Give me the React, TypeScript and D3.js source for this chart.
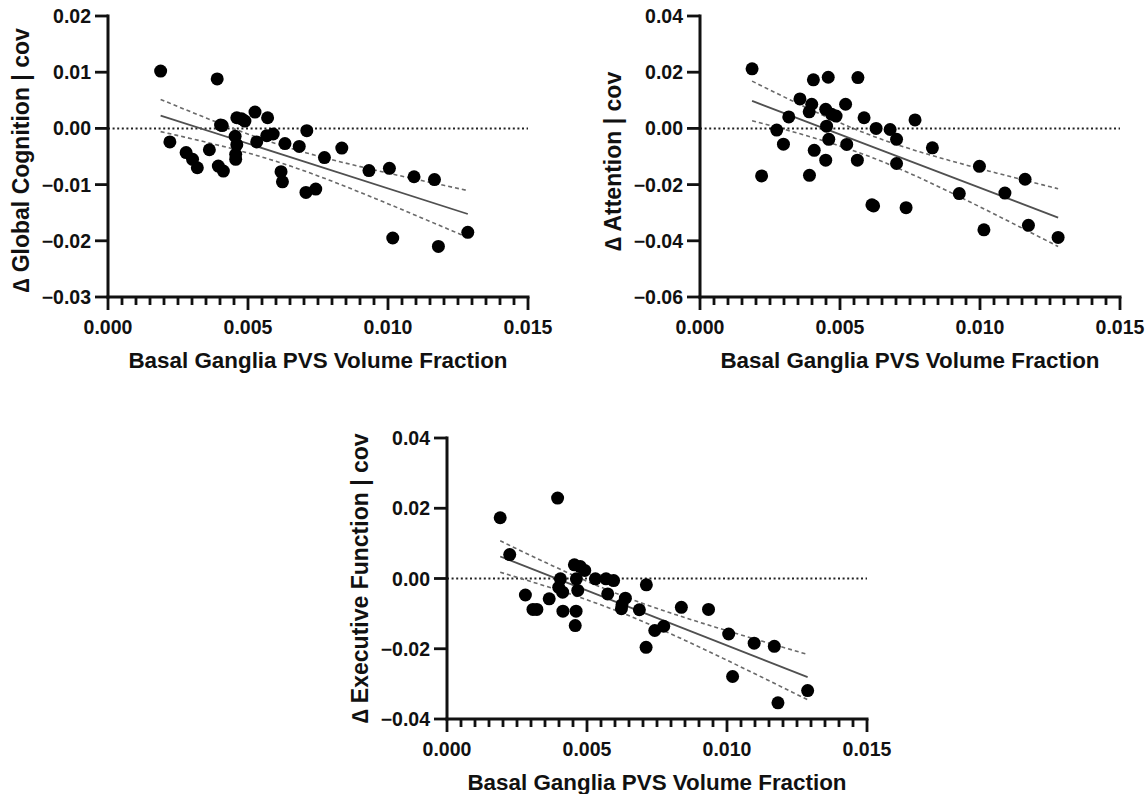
import React, { useEffect, useRef } from 'react';
import * as d3 from 'd3';

// shared x axis
const xTickValues = [0, 0.005, 0.01, 0.015];
const xTitle = 'Basal Ganglia PVS Volume Fraction';

// Global cognition
const gcX = [0.00188, 0.00221, 0.00279, 0.00302, 0.00319, 0.00362, 0.0039, 0.00402, 0.00408, 0.00394, 0.00412, 0.00454, 0.0046, 0.00456, 0.00456, 0.0046, 0.00477, 0.00489, 0.00525, 0.00531, 0.0057, 0.00567, 0.0059, 0.00618, 0.00623, 0.00632, 0.00683, 0.0071, 0.00707, 0.00742, 0.00773, 0.00835, 0.00932, 0.01005, 0.01017, 0.01093, 0.01166, 0.0118, 0.01285];
const gcY = [0.0102, -0.0024, -0.0043, -0.0055, -0.007, -0.0038, 0.0088, 0.0006, 0.0005, -0.0067, -0.0076, -0.0014, -0.0029, -0.0046, -0.0055, 0.0019, 0.0017, 0.0013, 0.0029, -0.0024, 0.0019, -0.0013, -0.001, -0.0077, -0.0095, -0.0027, -0.0032, -0.0004, -0.0114, -0.0108, -0.0052, -0.0035, -0.0075, -0.0071, -0.0195, -0.0086, -0.0091, -0.021, -0.0185];
const gcTicks = [-0.03, -0.02, -0.01, 0, 0.01, 0.02];

// Attention
const atX = [0.00186, 0.0022, 0.00274, 0.00298, 0.00317, 0.00357, 0.0039, 0.00399, 0.00405, 0.00391, 0.00408, 0.00449, 0.00449, 0.00458, 0.00452, 0.0046, 0.0047, 0.00486, 0.0052, 0.00524, 0.00562, 0.00564, 0.00586, 0.00614, 0.0062, 0.00629, 0.00679, 0.00702, 0.00702, 0.00736, 0.00768, 0.0083, 0.00926, 0.00998, 0.01014, 0.01089, 0.01161, 0.01173, 0.01279];
const atY = [0.0212, -0.0169, -0.0006, -0.0056, 0.0041, 0.0105, 0.0059, 0.0086, 0.0173, -0.0167, -0.0078, -0.0113, 0.0068, 0.0182, 0.0008, -0.0039, 0.005, 0.0044, 0.0086, -0.0057, -0.0113, 0.0181, 0.0038, -0.0272, -0.0276, 0, -0.0004, -0.0039, -0.0125, -0.0282, 0.003, -0.0069, -0.0232, -0.0135, -0.0361, -0.023, -0.0181, -0.0345, -0.0388];
const atTicks = [-0.06, -0.04, -0.02, 0, 0.02, 0.04];

// Executive function
const efX = [0.0019, 0.00224, 0.0028, 0.00307, 0.00321, 0.00365, 0.00395, 0.00405, 0.00399, 0.00413, 0.00414, 0.00455, 0.00476, 0.00462, 0.00467, 0.00461, 0.00458, 0.00492, 0.0053, 0.00568, 0.00595, 0.00574, 0.00637, 0.00625, 0.00623, 0.00687, 0.00712, 0.00711, 0.00742, 0.00774, 0.00837, 0.00934, 0.01006, 0.0102, 0.01097, 0.01169, 0.01182, 0.01288];
const efY = [0.0173, 0.0068, -0.0047, -0.0088, -0.0088, -0.0058, 0.0229, -0.0001, -0.0025, -0.0039, -0.0093, 0.0039, 0.0034, -0.0001, -0.0034, -0.0093, -0.0134, 0.0023, -0.0001, -0.0001, -0.0006, -0.0044, -0.0056, -0.0075, -0.0086, -0.0089, -0.0018, -0.0196, -0.0148, -0.0136, -0.0082, -0.0088, -0.0158, -0.0279, -0.0184, -0.0193, -0.0354, -0.0319];
const efTicks = [-0.04, -0.02, 0, 0.02, 0.04];

const panels = [
    { title: '\u2206 Global Cognition | cov', xs: gcX, ys: gcY, yTicks: gcTicks, left: 108, top: 16, titleShift: 4 },
    { title: '\u2206 Attention | cov', xs: atX, ys: atY, yTicks: atTicks, left: 700, top: 16, titleShift: 5 },
    { title: '\u2206 Executive Function | cov', xs: efX, ys: efY, yTicks: efTicks, left: 447, top: 438, titleShift: 0 },
];

const FONT = "'Liberation Sans', Arial, Helvetica, sans-serif";
const INK = '#111';
const T_CRIT = 2.026; // ~95%, df = n - 2
const TICK_W = 2.8;

function drawPanel(root, p) {
    const w = 420;
    const h = 281;
    const g = root.append('g').attr('transform', 'translate(' + p.left + ',' + p.top + ')');

    const x = d3.scaleLinear().domain([0, 0.015]).range([0, w]);
    const y = d3.scaleLinear().domain(d3.extent(p.yTicks)).range([h, 0]);

    // dotted zero reference
    g.append('line')
        .attr('x1', 0)
        .attr('x2', w)
        .attr('y1', y(0))
        .attr('y2', y(0))
        .attr('stroke', '#222')
        .attr('stroke-width', 2)
        .attr('stroke-dasharray', '2,2.6');

    // linear fit + 95% confidence band
    const n = p.xs.length;
    const mx = d3.mean(p.xs);
    const my = d3.mean(p.ys);
    let sxx = 0;
    let sxy = 0;
    for (let i = 0; i < n; i++) {
        sxx += (p.xs[i] - mx) ** 2;
        sxy += (p.xs[i] - mx) * (p.ys[i] - my);
    }
    const slope = sxy / sxx;
    const icpt = my - slope * mx;
    let sse = 0;
    for (let i = 0; i < n; i++) sse += (p.ys[i] - (icpt + slope * p.xs[i])) ** 2;
    const s = Math.sqrt(sse / (n - 2));

    const [xMin, xMax] = d3.extent(p.xs);
    const grid = d3.range(0, 41).map((i) => xMin + ((xMax - xMin) * i) / 40);
    const band = (sign) => (xv) => {
        const se = s * Math.sqrt(1 / n + (xv - mx) ** 2 / sxx);
        return icpt + slope * xv + sign * T_CRIT * se;
    };
    const line = d3.line().x((d) => x(d[0])).y((d) => y(d[1]));

    [band(1), band(-1)].forEach((f) => {
        g.append('path')
            .attr('d', line(grid.map((v) => [v, f(v)])))
            .attr('fill', 'none')
            .attr('stroke', '#6a6a6a')
            .attr('stroke-width', 1.6)
            .attr('stroke-dasharray', '4,3');
    });
    g.append('path')
        .attr('d', line([[xMin, icpt + slope * xMin], [xMax, icpt + slope * xMax]]))
        .attr('fill', 'none')
        .attr('stroke', '#505050')
        .attr('stroke-width', 1.8);

    // points
    g.selectAll('.dot')
        .data(p.xs)
        .enter()
        .append('circle')
        .attr('class', 'dot')
        .attr('cx', (d) => x(d))
        .attr('cy', (d, i) => y(p.ys[i]))
        .attr('r', 6.5)
        .attr('fill', '#000');

    // tick marks as small filled bars
    const minor = d3.range(1, 30).filter((i) => i % 10 !== 0).map((i) => i * 0.0005);
    const xTickRows = minor.map((v) => ({ v, len: 8 })).concat(xTickValues.map((v) => ({ v, len: 13 })));
    g.selectAll('.xtick')
        .data(xTickRows)
        .enter()
        .append('rect')
        .attr('class', 'xtick')
        .attr('x', (d) => x(d.v) - TICK_W / 2)
        .attr('y', h)
        .attr('width', TICK_W)
        .attr('height', (d) => d.len)
        .attr('fill', INK);
    g.selectAll('.ytick')
        .data(p.yTicks)
        .enter()
        .append('rect')
        .attr('class', 'ytick')
        .attr('x', -13)
        .attr('y', (d) => y(d) - TICK_W / 2)
        .attr('width', 13)
        .attr('height', TICK_W)
        .attr('fill', INK);

    // axis frame
    g.append('rect').attr('x', -1.5).attr('y', -1.5).attr('width', 3).attr('height', h + 3).attr('fill', INK);
    g.append('rect').attr('x', -1.5).attr('y', h - 1.5).attr('width', w + 3).attr('height', 3).attr('fill', INK);

    const label = (sel, size) =>
        sel.style('font-family', FONT).style('font-weight', 'bold').style('font-size', size).attr('fill', INK);

    const fx = d3.format('.3f');
    const fy = d3.format('.2f');
    label(
        g.selectAll('.xlab')
            .data(xTickValues)
            .enter()
            .append('text')
            .attr('class', 'xlab')
            .attr('x', (d) => x(d))
            .attr('y', h + 37)
            .attr('text-anchor', 'middle')
            .text((d) => fx(d)),
        '19.5px'
    );
    label(
        g.selectAll('.ylab')
            .data(p.yTicks)
            .enter()
            .append('text')
            .attr('class', 'ylab')
            .attr('x', -17)
            .attr('y', (d) => y(d) + 7)
            .attr('text-anchor', 'end')
            .text((d) => fy(d)),
        '19.5px'
    );

    label(
        g.append('text')
            .attr('x', w / 2)
            .attr('y', h + 71)
            .attr('text-anchor', 'middle')
            .text(xTitle),
        '22.4px'
    );

    label(
        g.append('text')
            .attr('transform', 'translate(-79,' + (h / 2 + p.titleShift) + ') rotate(-90)')
            .attr('text-anchor', 'middle')
            .text(p.title),
        '23px'
    );
}

export default function App() {
    const ref = useRef(null);

    useEffect(() => {
        const svg = d3.select(ref.current);
        svg.selectAll('*').remove();
        panels.forEach((p) => drawPanel(svg, p));
    }, []);

    return (
        <svg
            ref={ref}
            width={1148}
            height={794}
            style={{ position: 'absolute', left: 0, top: 0, background: '#fff' }}
        />
    );
}
